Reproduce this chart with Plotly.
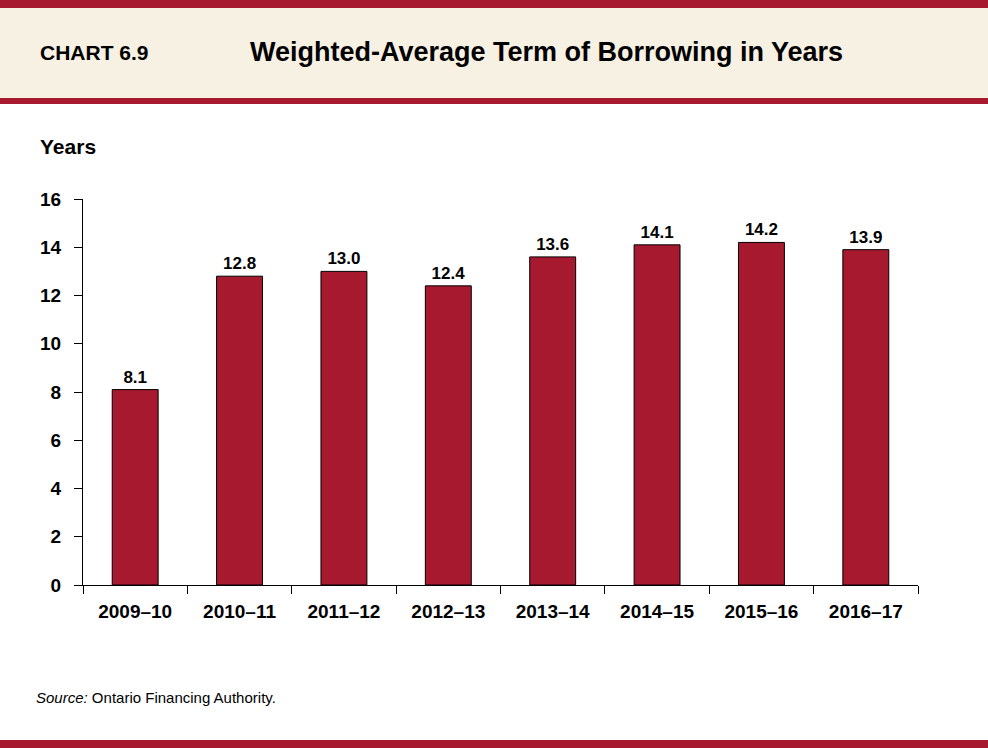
import plotly.graph_objects as go

# Data
years = ['2009–10', '2010–11', '2011–12', '2012–13', '2013–14', '2014–15', '2015–16', '2016–17']
term = [8.1, 12.8, 13.0, 12.4, 13.6, 14.1, 14.2, 13.9]
y_ticks = [0, 2, 4, 6, 8, 10, 12, 14, 16]

W, H = 988, 748
red = '#A6192E'
beige = '#F7F1E3'
font = 'Liberation Sans, Arial, sans-serif'

fig = go.Figure(go.Bar(
    x=years, y=term,
    marker=dict(color=red, line=dict(color='black', width=1)),
    text=[f'{v:.1f}' for v in term], textposition='outside',
    textfont=dict(family=font, size=17, color='black', weight='bold'),
    constraintext='none', cliponaxis=False,
))

# pixel -> paper coords
def px(x): return x / W
def py(y): return 1 - y / H

def band(y0, y1, color):
    return dict(type='rect', xref='paper', yref='paper', x0=0, x1=1, y0=py(y1), y1=py(y0),
                fillcolor=color, line_width=0, layer='below')

shapes = [band(0, 8, red), band(8, 98, beige), band(98, 104, red), band(740, 748, red)]

def label(text, x, y, size, anchor='left', bold=True):
    return dict(text=text, x=px(x), y=py(y), xref='paper', yref='paper', xanchor=anchor, yanchor='middle',
                font=dict(family=font, size=size, color='black', weight='bold' if bold else 'normal'),
                showarrow=False)

annotations = [
    label('CHART 6.9', 38, 52, 21),
    label('Weighted-Average Term of Borrowing in Years', 546, 52, 27, anchor='center'),
    label('Years', 38, 146, 21),
    label('<i>Source:</i> Ontario Financing Authority.', 34, 697, 15, bold=False),
]

fig.update_layout(
    template='none',
    width=W, height=H,
    margin=dict(l=0, r=0, t=0, b=0, pad=0),
    paper_bgcolor='white', plot_bgcolor='white',
    showlegend=False,
    bargap=0.56,
    shapes=shapes, annotations=annotations,
    xaxis=dict(domain=[px(83), px(918)], showline=True, linecolor='black', linewidth=1,
               ticks='outside', tickson='boundaries', ticklen=8, tickcolor='black', tickangle=0,
               ticklabelstandoff=9,
               tickfont=dict(family=font, size=19, color='black', weight='bold'),
               showgrid=False, automargin=False),
    yaxis=dict(domain=[py(585), py(199)], range=[0, 16], tickvals=y_ticks,
               showline=True, linecolor='black', linewidth=1,
               ticks='outside', ticklen=8, tickcolor='black', ticklabelstandoff=9,
               tickfont=dict(family=font, size=19, color='black', weight='bold'),
               showgrid=False, zeroline=False, automargin=False),
)

fig.write_html('out.html', config={'displayModeBar': False},
               post_script="document.body.style.margin='0';document.body.style.overflow='hidden';")
